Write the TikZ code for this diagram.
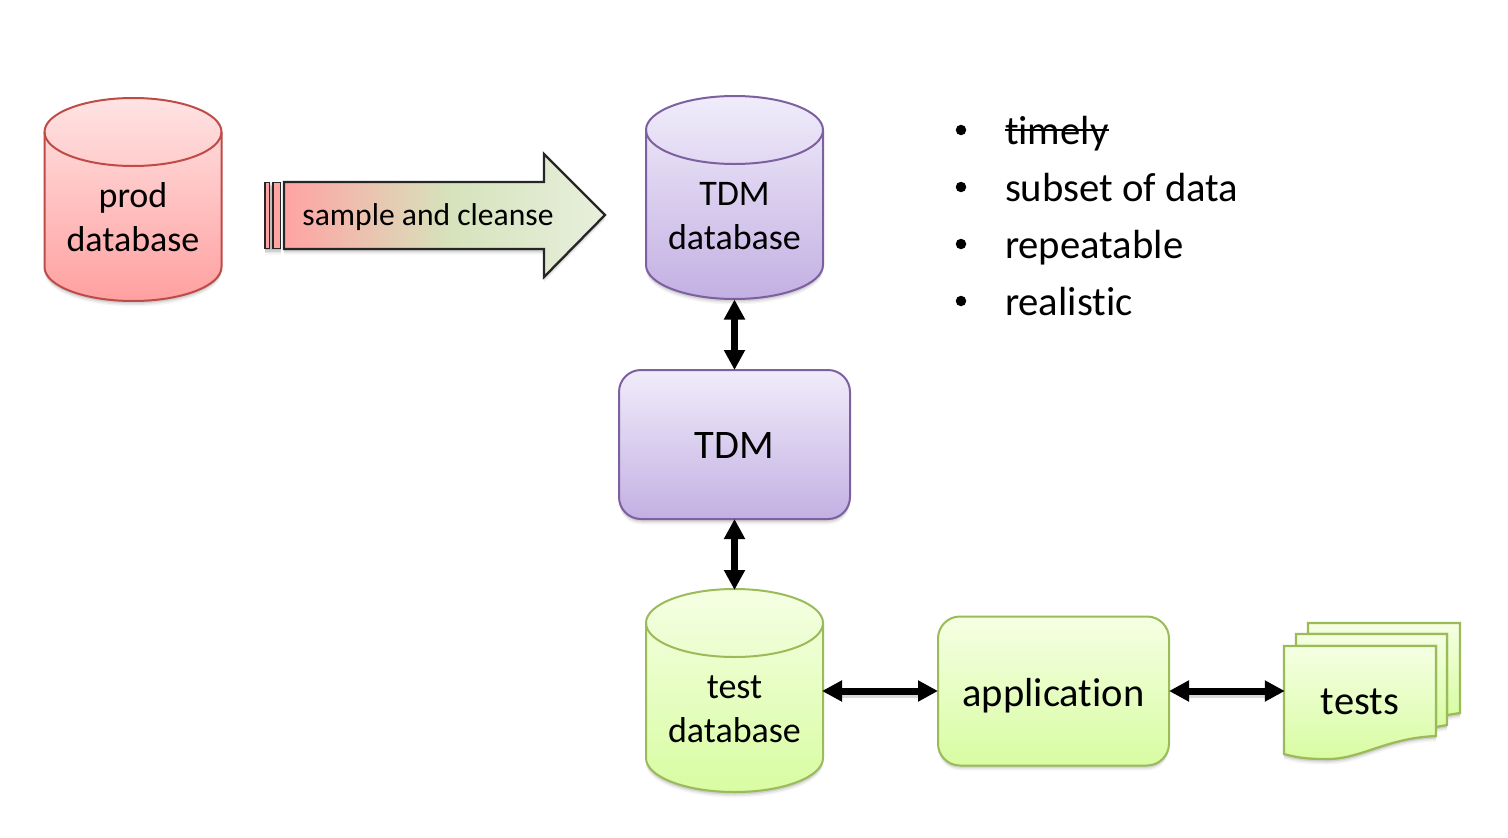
\documentclass[tikz,border=0pt]{standalone}
\usepackage{fontspec}
\setmainfont{Carlito}[Ligatures=CommonOff]
\usetikzlibrary{arrows.meta,shapes.geometric}
\definecolor{redT}{HTML}{FFE3E3}\definecolor{redB}{HTML}{FFA0A0}\definecolor{redL}{HTML}{BE4B48}
\definecolor{purT}{HTML}{F0ECFA}\definecolor{purB}{HTML}{C3B0E3}\definecolor{purL}{HTML}{7D60A0}
\definecolor{greT}{HTML}{F5FFE3}\definecolor{greB}{HTML}{D8FCA2}\definecolor{greL}{HTML}{9BBB59}
\definecolor{arrA}{HTML}{FFA3A3}\definecolor{arrB}{HTML}{D6E3BC}\definecolor{arrC}{HTML}{E8EFDD}
\pgfdeclarehorizontalshading{bigarrowgrad}{100bp}{color(0bp)=(arrA); color(25bp)=(arrA); color(51bp)=(arrB); color(75bp)=(arrC); color(100bp)=(arrC)}
\newcommand{\softshadow}[1]{%
  \fill[black,opacity=.09,yshift=-1pt] #1;
  \fill[black,opacity=.09,yshift=-2.5pt] #1;
  \fill[black,opacity=.06,yshift=-4pt] #1;
  \fill[black,opacity=.04,yshift=-5.5pt] #1;
}
% #1 name #2 colour prefix #3 left x #4 top y #5 text y #6 text
\newcommand{\dbcyl}[6]{%
  \def\cylpath{(#3,#4+34) arc[start angle=180,end angle=360,x radius=88.5,y radius=34] -- ++(0,135) arc[start angle=0,end angle=180,x radius=88.5,y radius=34] -- cycle}%
  \softshadow{\cylpath}
  \path[shade,top color=#2T,bottom color=#2B,draw=#2L,line width=2pt] \cylpath;
  \draw[#2L,line width=2pt] (#3,#4+34) arc[start angle=180,end angle=0,x radius=88.5,y radius=34];
  \node[dbtext,minimum width=177pt,minimum height=203pt] (#1) at (#3+88.5,#4+101.5) {};
  \node[dbtext,align=center,font=\fontsize{36}{44}\selectfont] (#1text) at (#3+88.5,#5) {#6};
}
\tikzset{
  x=1pt,y=-1pt,
  dbtext/.style={inner sep=0pt,outer sep=0pt,text=black},
  blockarrow/.style={line width=7pt,{Triangle[width=20pt,length=20pt]}-{Triangle[width=20pt,length=20pt]},shorten <=-1pt,shorten >=-1pt},
  arrowshadow/.style={line width=7pt,draw=black,opacity=.15,shorten <=14pt,shorten >=14pt},
  listtext/.style={inner sep=0pt,outer sep=0pt,anchor=base west,font=\fontsize{40.7}{44}\selectfont},
  listdot/.style={circle,fill=black,inner sep=0pt,minimum size=10.5pt},
  docshape/.style={line width=2.2pt,draw=greL,top color=greT,bottom color=greB},
  flow/.style={line width=2.3pt,draw=black!85},
  strip/.style={line width=1.7pt,draw=black!85,fill=arrA},
  softbox/.style={rectangle,rounded corners=22pt,line width=2pt,minimum width=231pt,minimum height=149pt,inner sep=0pt},
  boxtext/.style={inner sep=0pt,font=\fontsize{40.5}{44}\selectfont,anchor=base},
}
\begin{document}
\begin{tikzpicture}
\useasboundingbox (0,0) rectangle (1508,838);
\fill[white] (0,0) rectangle (1508,838);

% cylinders
\dbcyl{prod}{red}{44.5}{98}{217.5}{prod\\database}
\dbcyl{tdmdb}{pur}{646}{96}{216.5}{TDM\\database}
\dbcyl{testdb}{gre}{646}{589}{709.5}{test\\database}

% TDM box
\softshadow{[rounded corners=22pt] (619,370) rectangle (850,519)}
\node[softbox,draw=purL,top color=purT,bottom color=purB] (tdm) at (734.5,444.5) {};
\node[boxtext] (tdmtext) at (734.5,458) {TDM};

% application box
\softshadow{[rounded corners=22pt] (938,616) rectangle (1169,765)}
\node[softbox,draw=greL,top color=greT,bottom color=greB] (app) at (1053.5,691) {};
\node[boxtext] (apptext) at (1053.5,706) {application};

% tests (multi-document)
\softshadow{(1308,623) -- (1460,623) -- (1460,713) -- (1447,715) -- (1447,725) -- (1436,727) -- (1436,736) .. controls (1385,738) and (1360,760) .. (1325,759) .. controls (1305,759) and (1295,757) .. (1284,754) -- (1284,646) -- (1296,646) -- (1296,634) -- (1308,634) -- cycle}
\draw[docshape] (1308,634) -- (1308,623) -- (1460,623) -- (1460,713) -- (1447,715) -- (1447,634) -- cycle;
\draw[docshape] (1296,646) -- (1296,634) -- (1447,634) -- (1447,725) -- (1436,727) -- (1436,646) -- cycle;
\draw[docshape] (1284,646) -- (1436,646) -- (1436,736) .. controls (1385,738) and (1360,760) .. (1325,759) .. controls (1305,759) and (1295,757) .. (1284,754) -- cycle;
\node[rectangle,inner sep=0pt,minimum width=152pt,minimum height=108pt] (tests) at (1360,691) {};
\node[boxtext] (teststext) at (1360,714) {tests};

% big striped arrow
\softshadow{(265,182) rectangle (281,249)}
\softshadow{(284,182) -- (544,182) -- (544,154) -- (605,215) -- (544,277) -- (544,249) -- (284,249) -- cycle}
\path[strip] (265,182.5) rectangle (269.5,248.5);
\path[strip] (273,182.5) rectangle (280.5,248.5);
\path[flow,shading=bigarrowgrad,line join=miter] (284,182) -- (544,182) -- (544,154) -- (605,215) -- (544,277) -- (544,249) -- (284,249) -- cycle;
\node[inner sep=0pt,anchor=base,font=\fontsize{31.6}{34}\selectfont] (sample) at (428,225) {sample and cleanse};

% double-headed connectors
\draw[arrowshadow] ([yshift=-3pt]tdmdb.south) -- ([yshift=-3pt]tdm.north);
\draw[arrowshadow] ([yshift=-3pt]tdm.south) -- ([yshift=-3pt]testdb.north);
\draw[arrowshadow] ([yshift=-3pt]testdb.east|-app.west) -- ([yshift=-3pt]app.west);
\draw[arrowshadow] ([yshift=-3pt]app.east) -- ([yshift=-3pt]tests.west|-app.east);
\draw[blockarrow,shorten <=0.5pt] (tdmdb.south) -- (tdm.north);
\draw[blockarrow] (tdm.south) -- (testdb.north);
\draw[blockarrow] (testdb.east|-app.west) -- (app.west);
\draw[blockarrow] (app.east) -- (tests.west|-app.east);

% bullet list
\node[listdot] (b1) at (961,130) {};
\node[listdot] (b2) at (961,187) {};
\node[listdot] (b3) at (961,244) {};
\node[listdot] (b4) at (961,301) {};
\node[listtext] (l1) at (1005,144) {timely};
\node[listtext] (l2) at (1005,201) {subset of data};
\node[listtext] (l3) at (1005,258) {repeatable};
\node[listtext] (l4) at (1005,315) {realistic};
\draw[line width=2.2pt,black,yshift=-3pt] (l1.west|-b1) -- (l1.east|-b1);
\end{tikzpicture}
\end{document}
